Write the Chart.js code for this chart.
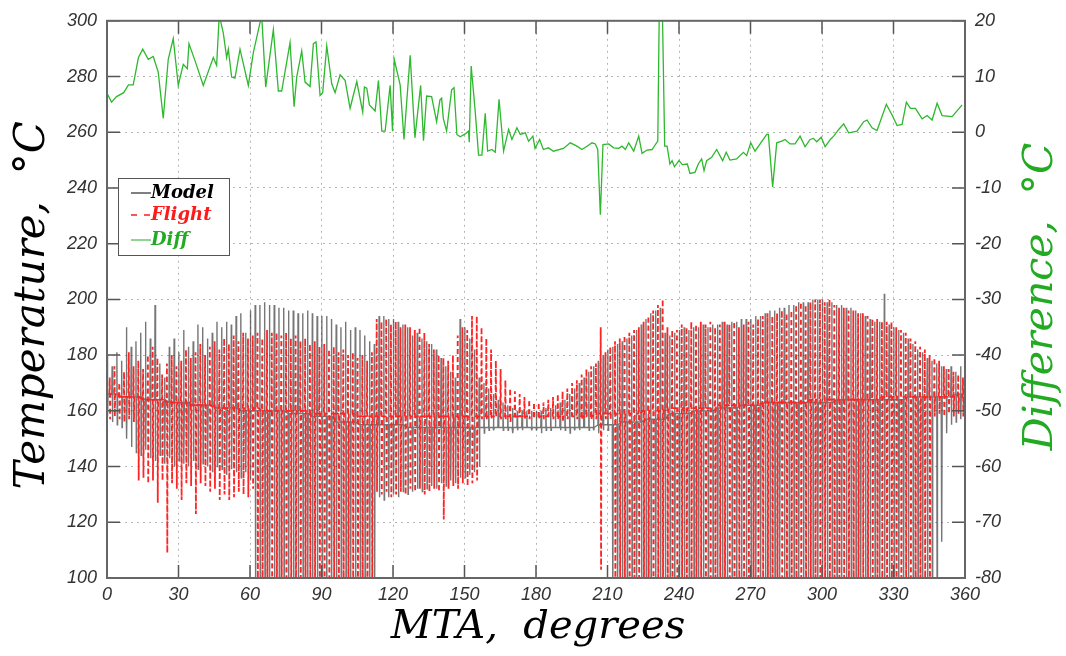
<!DOCTYPE html>
<html>
<head>
<meta charset="utf-8">
<script src="https://cdn.jsdelivr.net/npm/chart.js@4.4.0/dist/chart.umd.min.js"></script>
<style>
  html, body { margin: 0; padding: 0; background: #fff; }
  #wrap { width: 1066px; height: 656px; }
</style>
</head>
<body>
<div id="wrap"><canvas id="temp-chart" width="1066" height="656"></canvas></div>
<script>
/*global Chart*/

// tick values
const mtaTicks = [0, 30, 60, 90, 120, 150, 180, 210, 240, 270, 300, 330, 360];
const tempTicks = [100, 120, 140, 160, 180, 200, 220, 240, 260, 280, 300];
const diffTicks = [-80, -70, -60, -50, -40, -30, -20, -10, 0, 10, 20];

// spike envelopes, one value per orbit sample (model at 0,2,4..; flight at 1,3,5..)
const spikeStep = 2;
const modelHigh = [
  180, 176, 181, 178, 190, 183, 185, 188, 192, 186,
  198, 177, 172, 183, 186, 181, 189, 183, 185, 191,
  190, 186, 188, 192, 190, 192, 191, 194, 195, 188,
  196, 198, 198, 199, 198, 198, 197, 197, 196, 196,
  195, 195, 196, 195, 194, 194, 194, 193, 191, 190,
  192, 189, 190, 189, 187, 185, 184, 194, 194, 193,
  193, 192, 191, 190, 187, 188, 186, 185, 184, 182,
  179, 176, 174, 172, 193, 190, 186, 182, 172, 170,
  168, 166, 164, 163, 162, 161, 160, 160, 160, 160,
  160, 160, 161, 161, 162, 163, 164, 166, 168, 170,
  172, 174, 176, 178, 180, 182, 183, 184, 185, 186,
  187, 189, 191, 193, 195, 196, 197, 188, 187, 188,
  189, 190, 189, 190, 190, 191, 190, 191, 191, 192,
  191, 192, 192, 193, 193, 193, 194, 194, 195, 196,
  196, 197, 197, 198, 198, 199, 199, 199, 200, 200,
  200, 199, 199, 198, 198, 197, 197, 196, 195, 194,
  193, 192, 192, 202, 191, 190, 189, 188, 186, 184,
  182, 181, 179, 178, 177, 176, 175, 176, 174, 176,
  172
];
const modelLow = [
  158, 156, 155, 154, 150, 147, 145, 144, 146, 143,
  142, 144, 141, 143, 140, 142, 141, 140, 142, 139,
  141, 140, 138, 140, 139, 137, 139, 138, 136, 138,
  135, 90, 90, 90, 90, 90, 90, 90, 90, 90,
  90, 90, 90, 90, 90, 90, 90, 90, 90, 90,
  90, 90, 90, 90, 90, 90, 90, 129, 128, 129,
  130, 129, 131, 130, 131, 132, 131, 132, 133, 132,
  134, 133, 135, 134, 136, 136, 137, 138, 140, 152,
  153, 153, 154, 153, 153, 152, 153, 153, 154, 153,
  153, 152, 153, 153, 154, 153, 153, 152, 153, 153,
  154, 153, 153, 152, 153, 153, 90, 90, 90, 90,
  90, 90, 90, 90, 90, 90, 90, 90, 90, 90,
  90, 90, 90, 90, 90, 90, 90, 90, 90, 90,
  90, 90, 90, 90, 90, 90, 90, 90, 90, 90,
  90, 90, 90, 90, 90, 90, 90, 90, 90, 90,
  90, 90, 90, 90, 90, 90, 90, 90, 90, 90,
  90, 90, 90, 90, 90, 90, 90, 90, 90, 90,
  90, 90, 90, 90, 90, 113, 152, 155, 156, 157,
  158
];
const flightHigh = [
  172, 176, 170, 174, 181, 176, 178, 175, 180, 183,
  179, 173, 177, 180, 176, 178, 182, 179, 181, 184,
  180, 183, 185, 182, 186, 184, 187, 185, 188, 186,
  187, 188, 186, 189, 188, 188, 187, 188, 186, 187,
  185, 186, 184, 185, 183, 184, 182, 183, 181, 182,
  180, 181, 179, 180, 178, 181, 193, 192, 193, 191,
  192, 190, 191, 190, 189, 190, 188, 184, 182, 180,
  179, 178, 180, 187, 190, 189, 194, 194, 190, 186,
  182, 178, 175, 171, 168, 167, 166, 165, 164, 163,
  163, 163, 164, 165, 166, 167, 168, 170, 171, 173,
  175, 176, 177, 190, 181, 183, 185, 186, 187, 188,
  189, 190, 192, 194, 196, 198, 200, 190, 189, 189,
  191, 190, 192, 191, 192, 191, 192, 190, 191, 192,
  191, 192, 190, 191, 192, 191, 193, 194, 195, 194,
  195, 196, 195, 196, 198, 199, 198, 199, 200, 200,
  199, 200, 198, 197, 197, 196, 196, 195, 195, 194,
  193, 193, 192, 192, 192, 190, 189, 188, 186, 185,
  183, 182, 180, 179, 178, 176, 175, 174, 173, 172
];
const flightLow = [
  157, 158, 157, 156, 157, 156, 135, 136, 134, 135,
  127, 135, 109, 134, 132, 128, 134, 133, 123, 134,
  133, 131, 132, 128, 130, 128, 129, 131, 130, 129,
  132, 90, 90, 90, 90, 90, 90, 90, 90, 90,
  90, 90, 90, 90, 90, 90, 90, 90, 90, 90,
  90, 90, 90, 90, 90, 90, 131, 130, 131, 129,
  130, 131, 130, 132, 131, 132, 130, 131, 132, 131,
  121, 132, 133, 132, 134, 133, 134, 135, 157, 157,
  157, 158, 157, 157, 156, 157, 158, 157, 157, 158,
  157, 157, 158, 157, 157, 156, 157, 158, 157, 157,
  158, 157, 157, 103, 157, 157, 90, 90, 90, 90,
  90, 90, 90, 90, 90, 90, 90, 90, 90, 90,
  90, 90, 90, 90, 90, 90, 90, 90, 90, 90,
  90, 90, 90, 90, 90, 90, 90, 90, 90, 90,
  90, 90, 90, 90, 90, 90, 90, 90, 90, 90,
  90, 90, 90, 90, 90, 90, 90, 90, 90, 90,
  90, 90, 90, 90, 90, 90, 90, 90, 90, 90,
  90, 90, 90, 158, 159, 158, 159, 158, 159, 158
];

// mean level every 10 degrees
const modelBase = [
  166, 165, 164, 163, 162, 161, 160, 160, 159, 158,
  156, 155, 155, 154, 154, 154, 154, 154, 154, 154,
  154, 155, 156, 157, 159, 160, 161, 162, 163, 163,
  163, 164, 164, 164, 165, 165, 166
];
const flightBase = [
  166, 165, 164, 163, 162, 161, 161, 160, 160, 159,
  159, 158, 158, 158, 158, 158, 158, 158, 158, 158,
  158, 159, 159, 160, 161, 161, 162, 162, 163, 163,
  164, 164, 164, 165, 165, 165, 165
];

// model - flight difference
const diffAngle = [
  0, 1.9, 4, 7, 9, 11, 13.2, 15, 17.3, 19.4,
  21.5, 23.6, 25.7, 27.8, 29.9, 32, 33.7, 34.4, 37.6, 40.4,
  44.6, 46, 47.1, 48.8, 50.2, 50.9, 52.3, 53.7, 55.8, 59.3,
  61.4, 64.9, 66.6, 69.8, 71.9, 73.3, 76.8, 78.5, 79.6, 81.7,
  83.1, 85.2, 86.6, 87.7, 89.4, 90.5, 92.2, 94.3, 95.7, 97.8,
  99.9, 102, 104.8, 107.3, 108, 109, 110.1, 112.5, 113.9, 115.3,
  116.7, 118.8, 119.8, 120.5, 123, 124.6, 127.2, 129.2, 131.6, 132.8,
  134.1, 136.2, 138.3, 139.7, 140.4, 141.1, 142.5, 144.6, 145.6, 146.8,
  148.2, 150.3, 151.7, 152, 152.8, 154.5, 155.9, 157.3, 158.7, 159.7,
  161.5, 162.9, 164.5, 166.4, 168.5, 169.9, 172, 173.4, 175.5, 176.9,
  178.7, 179.6, 181.5, 183.1, 185.2, 187.3, 191.5, 194.4, 197.2, 199.3,
  201.4, 203.5, 204.9, 205.9, 207, 208.1, 210.5, 212.6, 214.7, 216.1,
  217.5, 218.9, 221, 223.1, 224.5, 226.6, 228.7, 230.1, 231.1, 231.8,
  232.9, 234, 235, 236.2, 237.1, 238.1, 240, 241.4, 243.5, 244.6,
  246.7, 248.1, 249.5, 250.5, 251.6, 253.7, 255.8, 258.3, 259.8, 261.4,
  264.2, 267, 268.4, 270.1, 271.9, 276.8, 277.5, 279.3, 281, 283.1,
  284.5, 286.6, 288.7, 290.8, 292.9, 295, 296.4, 297.8, 299.7, 301.3,
  303.5, 304.9, 307, 309.1, 311.2, 314.7, 317.5, 318.9, 321, 323.1,
  327, 329.4, 331.5, 333.6, 335.4, 337.1, 339.2, 342, 344.1, 346.2,
  348.3, 350.4, 354.6, 358.8
];
const diffValue = [
  7, 5.4, 6.4, 7.1, 8.5, 8.5, 13.4, 14.9, 13.1, 13.6,
  10.8, 2.5, 13.1, 16.8, 8.4, 12.2, 11.4, 15.9, 12, 8.4,
  13.4, 12, 21, 17.8, 13.4, 14.9, 9.9, 9.7, 14.9, 8.4,
  14.3, 21, 8.1, 18.4, 7.4, 7.4, 16.1, 4.6, 9.9, 14.6,
  9, 8.2, 15.9, 16.2, 6.6, 7.1, 15.5, 8.7, 7.1, 10.3,
  9.3, 4.3, 9.1, 3.6, 8.1, 7.9, 4.9, 3.8, 9.3, 0.2,
  0.2, 8.4, 0.2, 13.1, 8.5, -1.3, 13.8, -1, 8.4, -1.5,
  6.5, 6.4, 1.9, 5.8, 6.1, 2.5, 0.2, 7.6, 8, -0.4,
  -0.8, -0.3, 0.2, -1.8, 11.9, 3.7, -4.1, -4.1, 3.4, -3.4,
  -3.1, -3.6, 5.9, -3.4, 0.5, -1.3, 0.8, -0.4, -0.1, -1.6,
  -0.7, -2.9, -1.3, -3.1, -2.8, -3.4, -2.9, -1.9, -2.5, -3.1,
  -2.5, -1.9, -2.1, -3.1, -14.8, -2.2, -2.1, -2.8, -2.9, -2.5,
  -3.1, -1.9, -3.4, -0.7, -3.8, -3.2, -3.1, -2.2, -1.6, 25,
  25, -2.5, -2.5, -5.7, -5.1, -6.2, -5.1, -5.8, -5.7, -7.4,
  -7.2, -5.7, -4.8, -6.9, -5.1, -4.5, -3.1, -5.1, -3.6, -5,
  -4.8, -3.6, -4.2, -1.9, -3.4, -0.4, -0.4, -9.8, -1.9, -1.6,
  -1.3, -2.1, -2.1, -0.7, -2.6, -1.3, -1.1, -1.7, -0.9, -2.6,
  -1.3, -0.7, 0.5, 1.5, -0.1, 0.2, 1.9, 2.2, 0.8, 0.3,
  5, 3.1, 1.2, 1.4, 5.4, 4.3, 4.3, 2.4, 3, 2.2,
  5.2, 3, 2.8, 4.9
];

// each sample: mean level -> top of spike -> bottom of spike -> mean level
function spikeLine(start, base, high, low) {
  const pts = [];
  for (let i = 0; i < high.length; i++) {
    const a = start + i * spikeStep;
    const b = base[Math.round(a / 10)];
    pts.push({ x: a, y: b });
    pts.push({ x: a + 0.15, y: high[i] });
    pts.push({ x: a + 0.3, y: low[i] });
    pts.push({ x: a + 0.45, y: b });
  }
  return pts;
}

const serif = "'DejaVu Serif', 'Liberation Serif', serif";
const tickFont = { family: "'Liberation Sans Narrow', 'Liberation Sans', sans-serif", size: 18, style: "italic" };

// frame, inner tick marks, axis titles and the boxed legend
const decorations = {
  id: "decorations",
  afterDatasetsDraw(chart) {
    const { ctx, chartArea: a, scales } = chart;
    ctx.save();
    ctx.strokeStyle = "#555";
    ctx.lineWidth = 1.5;
    ctx.beginPath();
    for (const v of mtaTicks) {
      const px = scales.x.getPixelForValue(v);
      ctx.moveTo(px, a.bottom); ctx.lineTo(px, a.bottom - 13);
      ctx.moveTo(px, a.top); ctx.lineTo(px, a.top + 13);
    }
    for (const v of tempTicks) {
      const py = scales.y.getPixelForValue(v);
      ctx.moveTo(a.left, py); ctx.lineTo(a.left + 13, py);
    }
    for (const v of diffTicks) {
      const py = scales.y2.getPixelForValue(v);
      ctx.moveTo(a.right, py); ctx.lineTo(a.right - 13, py);
    }
    ctx.stroke();
    ctx.strokeStyle = "#666";
    ctx.lineWidth = 2;
    ctx.strokeRect(a.left, a.top, a.width, a.height);
    ctx.restore();
  },
  afterDraw(chart) {
    const { ctx, chartArea: a } = chart;
    const midY = (a.top + a.bottom) / 2;
    ctx.save();
    ctx.textAlign = "center";
    ctx.textBaseline = "middle";

    ctx.fillStyle = "#000";
    ctx.font = "italic 40px " + serif;
    ctx.fillText("MTA,  degrees", (a.left + a.right) / 2 + 2, 628);

    ctx.save();
    ctx.font = "italic 42px " + serif;
    ctx.translate(33, midY + 6);
    ctx.rotate(-Math.PI / 2);
    ctx.fillText("Temperature,  °C", 0, 0);
    ctx.restore();

    ctx.save();
    ctx.font = "italic 41px " + serif;
    ctx.translate(1041, midY - 3);
    ctx.rotate(-Math.PI / 2);
    ctx.fillStyle = "#22aa22";
    ctx.fillText("Difference,  °C", 0, 0);
    ctx.restore();

    // legend
    const bx = 118.5, by = 178.5;
    ctx.fillStyle = "#fff";
    ctx.fillRect(bx, by, 111, 77);
    ctx.strokeStyle = "#555";
    ctx.lineWidth = 1;
    ctx.strokeRect(bx, by, 111, 77);
    const entries = [
      { text: "Model", color: "#000", dash: [], y: 193 },
      { text: "Flight", color: "#ff1a1a", dash: [6, 7], y: 215 },
      { text: "Diff", color: "#22aa22", dash: [], y: 240 }
    ];
    ctx.textAlign = "left";
    ctx.font = "italic bold 18px " + serif;
    for (const e of entries) {
      ctx.strokeStyle = e.color;
      ctx.lineWidth = e.text === "Flight" ? 1.6 : 1;
      ctx.setLineDash(e.dash);
      ctx.beginPath();
      ctx.moveTo(131, e.y); ctx.lineTo(151, e.y);
      ctx.stroke();
      ctx.setLineDash([]);
      ctx.fillStyle = e.color;
      ctx.fillText(e.text, 151, e.y);
    }
    ctx.restore();
  }
};

const ctx = document.getElementById("temp-chart").getContext("2d");

new Chart(ctx, {
  type: "line",
  plugins: [decorations],
  data: {
    datasets: [
      {
        label: "Diff",
        data: diffAngle.map((x, i) => ({ x: x, y: diffValue[i] })),
        yAxisID: "y2",
        borderColor: "#2db82d",
        borderWidth: 1.3,
        pointRadius: 0,
        order: 0
      },
      {
        label: "Flight",
        data: spikeLine(1, flightBase, flightHigh, flightLow),
        yAxisID: "y",
        borderColor: "#ff2424",
        borderWidth: 1.8,
        borderDash: [5, 3],
        pointRadius: 0,
        order: 1
      },
      {
        label: "Model",
        data: spikeLine(0, modelBase, modelHigh, modelLow),
        yAxisID: "y",
        borderColor: "rgba(45, 45, 45, 0.65)",
        borderWidth: 1.4,
        pointRadius: 0,
        order: 2
      }
    ]
  },
  options: {
    responsive: false,
    animation: false,
    devicePixelRatio: 1,
    layout: {
      padding: { top: 14, left: 0, right: 0, bottom: 0 }
    },
    elements: {
      line: { tension: 0 }
    },
    scales: {
      x: {
        type: "linear",
        min: 0,
        max: 360,
        ticks: { stepSize: 30, color: "#333", font: tickFont, padding: 6, maxRotation: 0 },
        grid: { color: "#b5b5b5", drawTicks: false },
        border: { display: false, dash: [2, 4] },
        afterFit: (s) => { s.height = 78; }
      },
      y: {
        position: "left",
        min: 100,
        max: 300,
        ticks: { stepSize: 20, color: "#333", font: tickFont, padding: 10 },
        grid: { color: "#b5b5b5", drawTicks: false },
        border: { display: false, dash: [2, 4] },
        afterFit: (s) => { s.width = 107; }
      },
      y2: {
        position: "right",
        min: -80,
        max: 20,
        ticks: { stepSize: 10, color: "#333", font: tickFont, padding: 10 },
        grid: { drawOnChartArea: false, drawTicks: false },
        border: { display: false },
        afterFit: (s) => { s.width = 101; }
      }
    },
    plugins: {
      legend: { display: false },
      tooltip: { enabled: false }
    }
  }
});
</script>
</body>
</html>
